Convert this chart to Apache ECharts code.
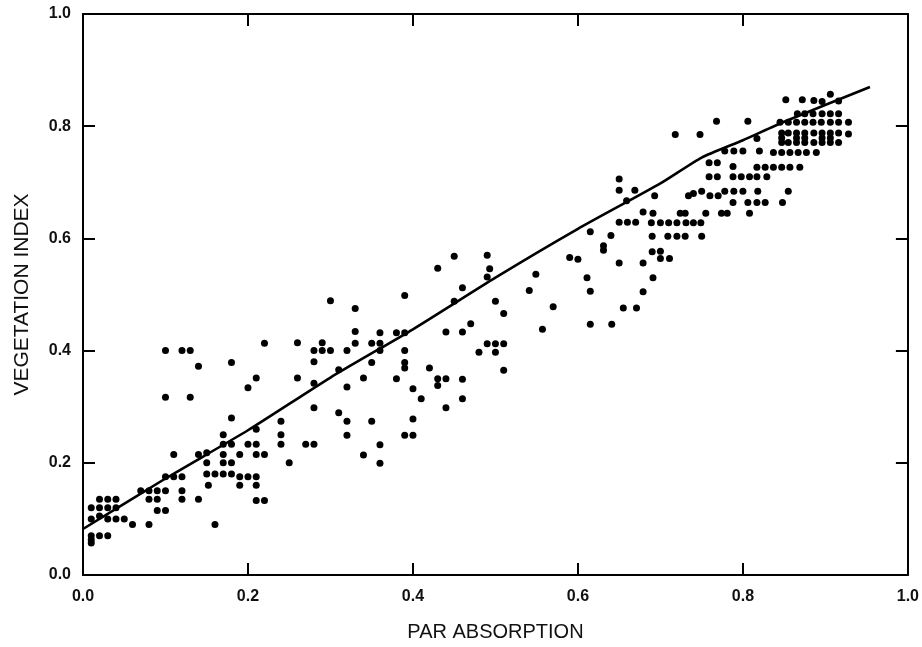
<!DOCTYPE html>
<html>
<head>
<meta charset="utf-8">
<script src="https://cdn.jsdelivr.net/npm/echarts@6/dist/echarts.min.js"></script>
<style>html,body{margin:0;padding:0;background:#fff;}#c{width:922px;height:647px;}</style>
</head>
<body>
<div id="c"></div>
<script>
// Axis tick labels
const xTicks = [0.0, 0.2, 0.4, 0.6, 0.8, 1.0];
const yTicks = [0.0, 0.2, 0.4, 0.6, 0.8, 1.0];
const tickMarks = [0.2, 0.4, 0.6, 0.8];

// Scatter observations [PAR absorption, vegetation index]
const pointsLow = [
  [0.01,0.12],[0.02,0.12],[0.03,0.12],[0.04,0.12],
  [0.02,0.135],[0.03,0.135],[0.04,0.135],
  [0.01,0.10],[0.02,0.105],[0.03,0.10],[0.04,0.10],[0.05,0.10],
  [0.06,0.09],[0.08,0.09],
  [0.01,0.07],[0.01,0.063],[0.01,0.057],[0.02,0.07],[0.03,0.07],
  [0.07,0.15],[0.08,0.15],[0.08,0.135],[0.09,0.135],
  [0.09,0.15],[0.09,0.115],[0.10,0.115],[0.10,0.15],
  [0.10,0.175],[0.11,0.175],[0.12,0.175],[0.12,0.15],[0.12,0.135],[0.14,0.135],
  [0.11,0.215],[0.14,0.215],[0.15,0.218],[0.15,0.20],[0.15,0.18],[0.16,0.18],[0.17,0.18],[0.18,0.18],[0.152,0.16],[0.16,0.09],
  [0.17,0.20],[0.18,0.20],[0.17,0.215],[0.17,0.233],[0.18,0.233],[0.17,0.25],[0.18,0.28],
  [0.19,0.175],[0.19,0.16],[0.19,0.215],[0.20,0.175],[0.20,0.233],[0.21,0.233],[0.21,0.215],[0.21,0.175],[0.21,0.16],[0.21,0.133],[0.22,0.133],[0.22,0.215],[0.21,0.26],
  [0.24,0.274],[0.24,0.25],[0.24,0.233],[0.25,0.20],[0.27,0.233],[0.28,0.233],[0.28,0.298],
  [0.10,0.317],[0.13,0.317],[0.20,0.334],[0.21,0.351],
  [0.10,0.40],[0.12,0.40],[0.13,0.40],[0.14,0.372],[0.18,0.379],[0.22,0.413]
];
const pointsMid = [
  [0.26,0.414],[0.26,0.351],[0.30,0.489],[0.28,0.40],[0.29,0.40],[0.30,0.40],[0.29,0.414],[0.28,0.38],[0.28,0.342],
  [0.31,0.366],[0.32,0.40],[0.32,0.335],[0.33,0.475],[0.33,0.434],[0.33,0.413],[0.35,0.413],[0.36,0.432],[0.36,0.413],
  [0.36,0.40],[0.35,0.379],[0.34,0.351],[0.38,0.432],[0.39,0.432],[0.39,0.498],[0.39,0.40],[0.39,0.379],[0.39,0.369],
  [0.38,0.35],[0.40,0.332],[0.41,0.314],[0.42,0.369],[0.43,0.35],[0.43,0.338],[0.44,0.35],[0.44,0.433],[0.43,0.547],
  [0.45,0.568],[0.46,0.512],[0.45,0.488],[0.46,0.433],[0.47,0.448],[0.46,0.349],[0.46,0.314],[0.44,0.298],
  [0.49,0.57],[0.493,0.546],[0.49,0.531],[0.50,0.488],[0.51,0.466],[0.49,0.412],[0.50,0.412],[0.51,0.412],
  [0.48,0.397],[0.50,0.397],[0.51,0.365],
  [0.31,0.289],[0.32,0.274],[0.32,0.249],[0.34,0.214],[0.35,0.274],[0.36,0.232],[0.36,0.199],
  [0.39,0.249],[0.40,0.249],[0.40,0.278],
  [0.65,0.706],[0.65,0.686],[0.669,0.686],[0.659,0.667],[0.679,0.647],[0.65,0.629],[0.66,0.629],[0.67,0.629],
  [0.615,0.612],[0.64,0.605],[0.631,0.587],[0.631,0.579],[0.59,0.566],[0.60,0.563],[0.549,0.536],[0.611,0.53],
  [0.615,0.506],[0.65,0.556],[0.679,0.556],[0.679,0.505],[0.541,0.507],[0.57,0.478],[0.557,0.438],
  [0.655,0.476],[0.671,0.476],[0.615,0.447],[0.641,0.447]
];
const pointsHigh = [
  [0.691,0.645],[0.724,0.645],[0.73,0.645],[0.755,0.645],[0.774,0.645],[0.781,0.645],[0.808,0.645],
  [0.689,0.628],[0.70,0.628],[0.71,0.628],[0.72,0.628],[0.731,0.628],[0.74,0.628],[0.749,0.628],
  [0.69,0.604],[0.709,0.604],[0.72,0.604],[0.73,0.604],[0.75,0.604],
  [0.69,0.576],[0.70,0.577],[0.70,0.564],[0.711,0.564],[0.691,0.53],
  [0.768,0.809],[0.806,0.809],[0.718,0.785],[0.748,0.785],
  [0.778,0.756],[0.789,0.756],[0.80,0.756],[0.82,0.756],
  [0.837,0.753],[0.847,0.753],[0.857,0.753],[0.867,0.753],[0.877,0.753],[0.889,0.753],
  [0.759,0.735],[0.769,0.735],[0.788,0.728],[0.817,0.727],[0.827,0.727],[0.837,0.727],[0.847,0.727],[0.857,0.727],[0.869,0.727],
  [0.759,0.71],[0.769,0.71],[0.788,0.71],[0.798,0.71],[0.808,0.71],[0.817,0.71],[0.829,0.71],
  [0.693,0.676],[0.734,0.676],[0.74,0.68],[0.75,0.684],[0.76,0.676],[0.77,0.676],[0.778,0.684],[0.789,0.684],[0.80,0.684],[0.818,0.684],[0.855,0.684],
  [0.788,0.664],[0.806,0.664],[0.817,0.664],[0.827,0.664],[0.848,0.664],
  [0.852,0.847],[0.872,0.847],[0.886,0.846],[0.896,0.844],[0.906,0.857],[0.916,0.845],
  [0.866,0.822],[0.875,0.822],[0.885,0.822],[0.896,0.822],[0.906,0.822],[0.916,0.822],
  [0.845,0.807],[0.855,0.807],[0.865,0.807],[0.875,0.807],[0.885,0.807],[0.895,0.807],[0.906,0.807],[0.916,0.807],[0.928,0.807],
  [0.847,0.788],[0.855,0.788],[0.865,0.788],[0.875,0.788],[0.886,0.788],[0.896,0.788],[0.906,0.788],[0.916,0.788],[0.928,0.786],
  [0.847,0.779],[0.865,0.779],[0.875,0.779],[0.896,0.779],[0.906,0.779],
  [0.847,0.771],[0.855,0.771],[0.865,0.771],[0.875,0.771],[0.886,0.771],[0.896,0.771],[0.906,0.771],[0.916,0.771],
  [0.817,0.778]
];

// Fitted curve
const lineX = [0.0, 0.1, 0.2, 0.3, 0.4, 0.5, 0.6, 0.7, 0.75, 0.8, 0.85, 0.954];
const lineY = [0.082, 0.172, 0.258, 0.352, 0.438, 0.53, 0.617, 0.698, 0.744, 0.775, 0.808, 0.87];

const FONT = 'Liberation Sans';
const fmt = v => v.toFixed(1);
const lineData = lineX.map((x, i) => [x, lineY[i]]);
const pts = pointsLow.concat(pointsMid, pointsHigh);

const axisCommon = {
  type: 'value', min: 0, max: 1, interval: 0.2,
  splitLine: { show: false },
  axisLine: { show: true, onZero: false, lineStyle: { color: '#000', width: 2 } },
  axisTick: { show: true, inside: true, length: 12, customValues: tickMarks, lineStyle: { color: '#000', width: 2 } }
};

const chart = echarts.init(document.getElementById('c'), null, { renderer: 'canvas' });
chart.setOption({
  animation: false,
  backgroundColor: '#fff',
  grid: { left: 83, right: 14, top: 14, bottom: 69, containLabel: false },
  xAxis: [
    Object.assign({}, axisCommon, {
      position: 'bottom',
      name: 'PAR ABSORPTION', nameLocation: 'middle', nameGap: 47,
      nameTextStyle: { fontFamily: FONT, fontSize: 20, color: '#111' },
      axisLabel: { formatter: fmt, margin: 14, fontFamily: FONT, fontSize: 16, fontWeight: 'bold', color: '#111',
        customValues: xTicks }
    }),
    Object.assign({}, axisCommon, { position: 'top', axisLabel: { show: false } })
  ],
  yAxis: [
    Object.assign({}, axisCommon, {
      position: 'left',
      name: 'VEGETATION INDEX', nameLocation: 'middle', nameGap: 50,
      nameTextStyle: { fontFamily: FONT, fontSize: 21, color: '#111' },
      axisLabel: { formatter: fmt, margin: 12, fontFamily: FONT, fontSize: 16, fontWeight: 'bold', color: '#111',
        customValues: yTicks }
    }),
    Object.assign({}, axisCommon, { position: 'right', axisLabel: { show: false } })
  ],
  series: [
    {
      type: 'scatter', xAxisIndex: 0, yAxisIndex: 0,
      data: pts, symbol: 'circle', symbolSize: 7,
      itemStyle: { color: '#000', opacity: 1 }, silent: true
    },
    {
      type: 'line', xAxisIndex: 0, yAxisIndex: 0,
      data: lineData, showSymbol: false, smooth: 0.2,
      lineStyle: { color: '#000', width: 2.6 }, silent: true
    }
  ]
});
</script>
</body>
</html>
